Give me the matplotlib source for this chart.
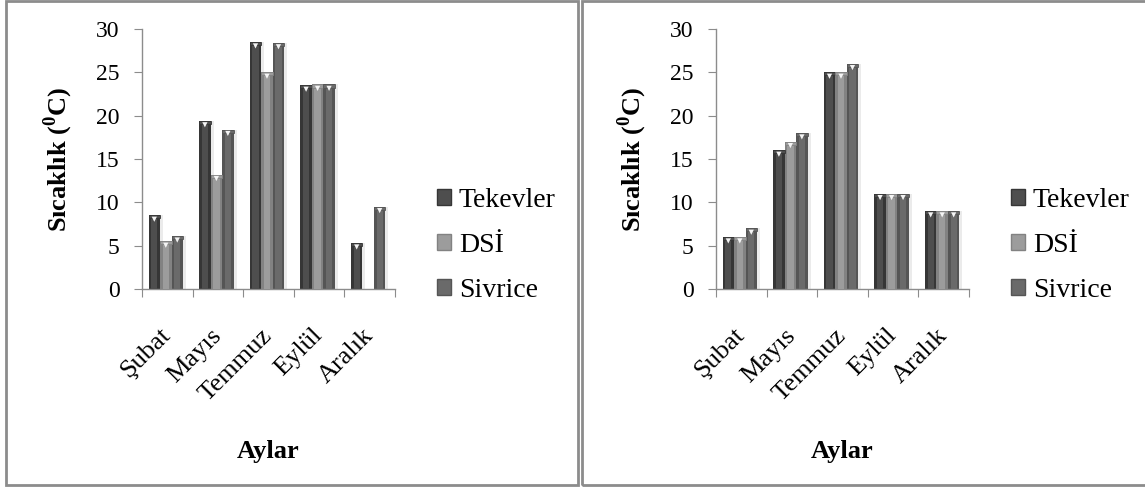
import numpy as np
import matplotlib
matplotlib.use('Agg')
import matplotlib.pyplot as plt
import matplotlib.patches as mpatches

plt.rcParams['font.family'] = 'Liberation Serif'
plt.rcParams['mathtext.fontset'] = 'custom'
plt.rcParams['mathtext.rm'] = 'Liberation Serif'
plt.rcParams['mathtext.bf'] = 'Liberation Serif:bold'

months = ['Şubat', 'Mayıs', 'Temmuz', 'Eylül', 'Aralık']
stations = ['Tekevler', 'DSİ', 'Sivrice']

# left panel
tekevler_a = [8.5, 19.4, 28.5, 23.5, 5.3]
dsi_a = [5.5, 13.2, 25.0, 23.6, np.nan]
sivrice_a = [6.1, 18.4, 28.4, 23.6, 9.5]

# right panel
tekevler_b = [6, 16, 25, 11, 9]
dsi_b = [6, 17, 25, 11, 9]
sivrice_b = [7, 18, 26, 11, 9]

yticks = [0, 5, 10, 15, 20, 25, 30]

# outer / inner shades for the cylinder look
outer = ['#363636', '#828282', '#555555']
inner = ['#4e4e4e', '#9c9c9c', '#6a6a6a']
grey = '#8c8c8c'

W, H = 1145, 487
fig = plt.figure(figsize=(W / 100, H / 100), dpi=100)

# panel frames
for x0, x1 in [(6, 577.5), (581.5, 1150)]:
    fig.patches.append(mpatches.Rectangle((x0 / W, 1 - 485 / H), (x1 - x0) / W, 484 / H,
                                          transform=fig.transFigure, fill=False,
                                          edgecolor=grey, linewidth=2))


def draw_panel(left_px, series):
    ax = fig.add_axes([left_px / W, 1 - 289 / H, 253 / W, 260 / H])
    x = np.arange(len(months))
    w = 0.227
    for i, vals in enumerate(series):
        vals = np.array(vals, dtype=float)
        xs = x + (i - 1) * w - 0.03
        # soft shadow
        ax.bar(xs + 0.06, vals, w, color='#d8d8d8', alpha=0.5, zorder=1)
        ax.bar(xs, vals, w, color=outer[i], zorder=2)
        ax.bar(xs, vals, w * 0.55, color=inner[i], zorder=3)
        ok = ~np.isnan(vals)
        ax.bar(xs[ok], np.full(ok.sum(), 0.35), w, bottom=vals[ok] - 0.35,
               color=inner[i], edgecolor=outer[i], linewidth=0.6, zorder=4)
        ax.scatter(xs[ok], vals[ok] - 0.45, marker='v', s=14, color='#f4f4f4',
                   edgecolors='none', zorder=5)

    ax.set_xlim(-0.5, len(months) - 0.5)
    ax.set_ylim(0, 30)
    ax.set_yticks(yticks)
    ax.set_xticks(np.arange(len(months) + 1) - 0.5)
    ax.set_xticklabels([])
    ax.set_xticks(x, months, minor=True)
    for s in ['top', 'right']:
        ax.spines[s].set_visible(False)
    for s in ['left', 'bottom']:
        ax.spines[s].set_color(grey)
        ax.spines[s].set_linewidth(1)
    ax.tick_params(axis='y', colors=grey, length=6, labelsize=17, labelcolor='black', pad=10)
    ax.tick_params(axis='x', which='major', colors=grey, length=6)
    ax.tick_params(axis='x', which='minor', length=0, pad=31, labelsize=19)
    for lab in ax.get_xticklabels(minor=True):
        lab.set_rotation(45)
        lab.set_ha('right')
        lab.set_va('center')
        lab.set_rotation_mode('anchor')

    ax.set_ylabel(r'Sıcaklık ($^{\mathbf{0}}$C)', fontsize=19, fontweight='bold')
    ax.yaxis.set_label_coords(-0.265, 0.5)
    ax.set_xlabel('Aylar', fontsize=19, fontweight='bold')
    ax.xaxis.set_label_coords(0.5, -0.58)

    handles = [mpatches.Patch(facecolor=inner[i], edgecolor=outer[i], label=s)
               for i, s in enumerate(stations)]
    ax.legend(handles=handles, loc='center left', bbox_to_anchor=(1.165, 0.168),
              frameon=False, fontsize=20, handlelength=0.5, handleheight=0.5,
              handletextpad=0.3, labelspacing=0.72, borderpad=0, borderaxespad=0)
    return ax


draw_panel(142, [tekevler_a, dsi_a, sivrice_a])
draw_panel(716, [tekevler_b, dsi_b, sivrice_b])

fig.savefig('out.png', dpi=100, facecolor='white')
